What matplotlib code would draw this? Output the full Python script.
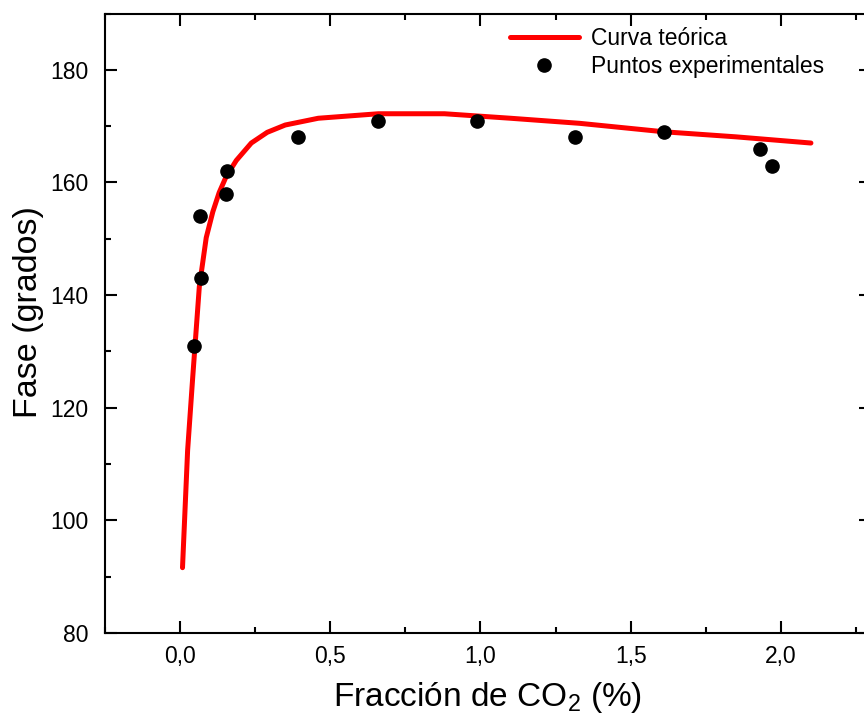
import matplotlib
matplotlib.use("Agg")
import matplotlib.pyplot as plt
from matplotlib.ticker import MultipleLocator, FuncFormatter

# Theoretical phase curve (polyline)
curve_x = [0.008, 0.025, 0.042, 0.064, 0.087, 0.109, 0.13, 0.153, 0.187, 0.237,
           0.29, 0.35, 0.46, 0.66, 0.88, 1.1, 1.33, 1.61, 1.85, 2.1]
curve_y = [91.6, 112.4, 125.4, 141.5, 150.2, 154.8, 158.2, 161.0, 163.9, 167.0,
           168.9, 170.2, 171.4, 172.2, 172.2, 171.4, 170.5, 169.0, 168.1, 167.0]

# Experimental measurements
exp_x = [0.045, 0.065, 0.068, 0.152, 0.156, 0.392, 0.66, 0.99, 1.315, 1.61, 1.93, 1.97]
exp_y = [131, 154, 143, 158, 162, 168, 171, 171, 168, 169, 166, 163]

x_ticks = [0.0, 0.5, 1.0, 1.5, 2.0]
y_ticks = [80, 100, 120, 140, 160, 180]

plt.rcParams['font.family'] = ['Liberation Sans', 'DejaVu Sans']
plt.rcParams['mathtext.fontset'] = 'custom'
plt.rcParams['mathtext.rm'] = 'Liberation Sans'
plt.rcParams['mathtext.it'] = 'Liberation Sans:italic'

fig = plt.figure(figsize=(8.64, 7.13), dpi=100)
ax = fig.add_axes([105 / 864, 1 - 633 / 713, (871 - 105) / 864, (633 - 13.5) / 713])

ax.plot(curve_x, curve_y, color='#ff0000', lw=3.6, solid_capstyle='round',
        solid_joinstyle='round', label='Curva teórica', zorder=2)
ax.plot(exp_x, exp_y, 'o', color='black', ms=9.5, ls='none',
        label='Puntos experimentales', zorder=3)

ax.set_xlim(-0.25, 2.3)
ax.set_ylim(80, 190)
ax.set_xticks(x_ticks)
ax.set_yticks(y_ticks)
ax.xaxis.set_minor_locator(MultipleLocator(0.25))
ax.yaxis.set_minor_locator(MultipleLocator(10))
ax.xaxis.set_major_formatter(FuncFormatter(lambda v, p: f"{v:.1f}".replace('.', ',')))

for s in ax.spines.values():
    s.set_linewidth(1.5)
ax.tick_params(which='both', direction='in', top=True, right=True, width=1.5)
ax.tick_params(which='major', length=8.5)
ax.tick_params(which='minor', length=4.5)
ax.tick_params(axis='x', which='major', labelsize=16.5, pad=9)
ax.tick_params(axis='y', which='major', labelsize=16.5, pad=12)

ax.set_xlabel('Fracción de CO$_2$ (%)', fontsize=24, labelpad=8)
ax.set_ylabel('Fase (grados)', fontsize=24.5)
ax.yaxis.set_label_coords(-0.08, 0.518)

fig.legend(loc='upper left', bbox_to_anchor=(510 / 864, 1 - 27 / 713),
           bbox_transform=fig.transFigure, frameon=False, fontsize=16.5,
           handlelength=3.0, handletextpad=0.55, labelspacing=0.22,
           borderpad=0, borderaxespad=0)

fig.savefig('out.png', dpi=100)
